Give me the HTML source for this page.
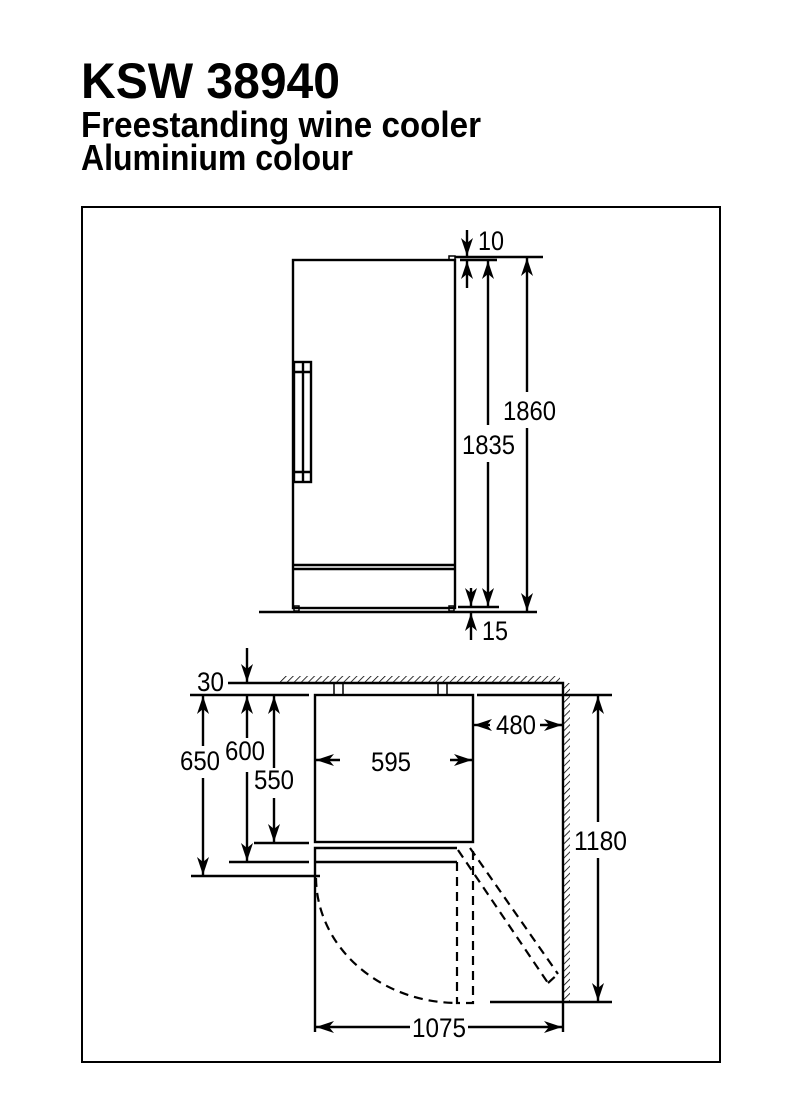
<!DOCTYPE html>
<html><head><meta charset="utf-8"><style>
html,body{margin:0;padding:0;background:#fff;}
svg{display:block}
text{font-family:"Liberation Sans",sans-serif;fill:#000}
.t{font-weight:bold}
</style></head><body>
<svg width="800" height="1118" viewBox="0 0 800 1118" xmlns="http://www.w3.org/2000/svg">
<defs>
<marker id="a" viewBox="0 0 18 12" refX="18" refY="6" markerWidth="18" markerHeight="12" markerUnits="userSpaceOnUse" orient="auto-start-reverse">
<path d="M0,0 L18,6 L0,12 L5,6 Z" fill="#000"/>
</marker>
<pattern id="h" width="5" height="5" patternUnits="userSpaceOnUse" patternTransform="rotate(45)">
<line x1="0" y1="0" x2="0" y2="5" stroke="#000" stroke-width="1.6"/>
</pattern>
</defs>

<text class="t" x="81" y="98" font-size="50" textLength="259" lengthAdjust="spacingAndGlyphs">KSW 38940</text>
<text class="t" x="81" y="137" font-size="36" textLength="400" lengthAdjust="spacingAndGlyphs">Freestanding wine cooler</text>
<text class="t" x="81" y="170" font-size="36" textLength="272" lengthAdjust="spacingAndGlyphs">Aluminium colour</text>

<rect x="82" y="207" width="638" height="855" fill="none" stroke="#000" stroke-width="2"/>

<g fill="none" stroke="#000" stroke-width="2.4">
<rect x="293" y="260" width="162" height="348"/>
<line x1="293" y1="565" x2="455" y2="565"/>
<line x1="293" y1="569" x2="455" y2="569"/>
<rect x="449" y="256" width="6" height="4" stroke-width="1.5"/>
<rect x="294" y="362" width="17" height="120"/>
<line x1="303" y1="362" x2="303" y2="482"/>
<line x1="294" y1="372" x2="311" y2="372"/>
<line x1="294" y1="472" x2="311" y2="472"/>
<rect x="294" y="606" width="5" height="5" stroke-width="1.5"/>
<rect x="449" y="606" width="5" height="5" stroke-width="1.5"/>
<line x1="259" y1="612" x2="537" y2="612"/>
<line x1="455" y1="257" x2="543" y2="257"/>
<line x1="460" y1="260" x2="497" y2="260"/>
<line x1="458" y1="607" x2="499" y2="607"/>
<line x1="467" y1="230" x2="467" y2="256" marker-end="url(#a)"/>
<line x1="467" y1="288" x2="467" y2="261" marker-end="url(#a)"/>
<line x1="488" y1="261" x2="488" y2="425" marker-start="url(#a)"/>
<line x1="488" y1="462" x2="488" y2="606" marker-end="url(#a)"/>
<line x1="527" y1="258" x2="527" y2="392" marker-start="url(#a)"/>
<line x1="527" y1="428" x2="527" y2="611" marker-end="url(#a)"/>
<line x1="471" y1="588" x2="471" y2="606" marker-end="url(#a)"/>
<line x1="471" y1="640" x2="471" y2="613" marker-end="url(#a)"/>

<rect x="280" y="676" width="280" height="7" fill="url(#h)" stroke="none"/>
<rect x="563" y="683" width="7" height="319" fill="url(#h)" stroke="none"/>
<polyline points="280,683 563,683 563,1032"/>
<rect x="334" y="683" width="9" height="12" stroke-width="1.5"/>
<rect x="438" y="683" width="9" height="12" stroke-width="1.5"/>
<rect x="315" y="695" width="158" height="147"/>
<polyline points="315,876 315,848 457,848"/>
<line x1="315" y1="862" x2="457" y2="862"/>
<line x1="315" y1="876" x2="315" y2="1032"/>
<line x1="190" y1="695" x2="309" y2="695"/>
<line x1="477" y1="695" x2="612" y2="695"/>
<line x1="254" y1="843" x2="309" y2="843"/>
<line x1="229" y1="862" x2="309" y2="862"/>
<line x1="191" y1="876" x2="320" y2="876"/>
<line x1="228" y1="683" x2="280" y2="683"/>
<line x1="490" y1="1002" x2="612" y2="1002"/>
<line x1="247" y1="648" x2="247" y2="682" marker-end="url(#a)"/>
<line x1="203" y1="696" x2="203" y2="746" marker-start="url(#a)"/>
<line x1="203" y1="778" x2="203" y2="875" marker-end="url(#a)"/>
<line x1="247" y1="696" x2="247" y2="738" marker-start="url(#a)"/>
<line x1="247" y1="772" x2="247" y2="861" marker-end="url(#a)"/>
<line x1="274" y1="696" x2="274" y2="768" marker-start="url(#a)"/>
<line x1="274" y1="798" x2="274" y2="842" marker-end="url(#a)"/>
<line x1="340" y1="760" x2="316" y2="760" marker-end="url(#a)"/>
<line x1="450" y1="760" x2="472" y2="760" marker-end="url(#a)"/>
<line x1="490" y1="725" x2="474" y2="725" marker-end="url(#a)"/>
<line x1="540" y1="725" x2="562" y2="725" marker-end="url(#a)"/>
<line x1="598" y1="696" x2="598" y2="822" marker-start="url(#a)"/>
<line x1="598" y1="858" x2="598" y2="1001" marker-end="url(#a)"/>
<line x1="410" y1="1027" x2="316" y2="1027" marker-end="url(#a)"/>
<line x1="468" y1="1027" x2="562" y2="1027" marker-end="url(#a)"/>

<g stroke-dasharray="9,6" stroke-width="2.2">
<path d="M316,878 A142 126 0 0 0 457,1003"/>
<polyline points="457,862 457,1003 473,1003 473,850"/>
<line x1="458" y1="850" x2="548" y2="983"/>
<line x1="470" y1="848" x2="558" y2="974"/>
<line x1="548" y1="983" x2="558" y2="974"/>
</g>
</g>

<g font-size="27">
<text x="478" y="250" textLength="26" lengthAdjust="spacingAndGlyphs">10</text>
<text x="462" y="454" textLength="53" lengthAdjust="spacingAndGlyphs">1835</text>
<text x="503" y="420" textLength="53" lengthAdjust="spacingAndGlyphs">1860</text>
<text x="482" y="640" textLength="26" lengthAdjust="spacingAndGlyphs">15</text>
<text x="197" y="691" textLength="27" lengthAdjust="spacingAndGlyphs">30</text>
<text x="180" y="770" textLength="40" lengthAdjust="spacingAndGlyphs">650</text>
<text x="225" y="760" textLength="40" lengthAdjust="spacingAndGlyphs">600</text>
<text x="254" y="789" textLength="40" lengthAdjust="spacingAndGlyphs">550</text>
<text x="371" y="771" textLength="40" lengthAdjust="spacingAndGlyphs">595</text>
<text x="496" y="734" textLength="40" lengthAdjust="spacingAndGlyphs">480</text>
<text x="574" y="850" textLength="53" lengthAdjust="spacingAndGlyphs">1180</text>
<text x="412" y="1037" textLength="54" lengthAdjust="spacingAndGlyphs">1075</text>
</g>
</svg>
</body></html>
